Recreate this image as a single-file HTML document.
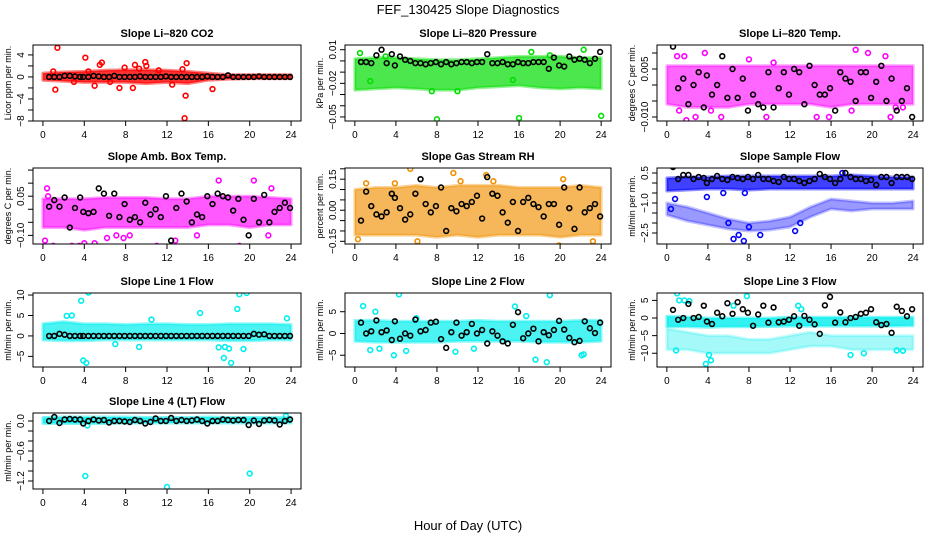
<!DOCTYPE html>
<html><head><meta charset="utf-8"><style>
html,body{margin:0;padding:0;background:#fff;}
svg{display:block;font-family:"Liberation Sans",Arial,sans-serif;}
</style></head><body>
<svg id="chart" width="936" height="540" viewBox="0 0 936 540" xmlns="http://www.w3.org/2000/svg">
<rect x="0" y="0" width="936" height="540" fill="#fff"/>
<text x="468" y="14" text-anchor="middle" font-size="13">FEF_130425  Slope Diagnostics</text>
<text x="468" y="530" text-anchor="middle" font-size="13">Hour of Day (UTC)</text>
</svg>
<script>
// shared hours for black (reference) points
const blackHours = [0.6,1.1,1.6,2.1,2.6,3.1,3.6,3.9,4.4,4.9,5.4,5.9,6.4,6.9,7.4,7.9,8.4,8.9,9.4,9.9,10.4,10.9,11.4,11.9,12.4,12.9,13.4,13.9,14.4,14.9,15.4,15.9,16.4,16.9,17.4,17.9,18.4,18.9,19.4,19.9,20.4,20.9,21.4,21.9,22.4,22.9,23.4,23.9];
const bandHours = [0,2,4,6,8,10,12,14,16,18,20,22,24];
const xTicks = [0,4,8,12,16,20,24];

// Panel 1: CO2
const co2BandLo = [-0.6,-0.8,-1.0,-1.0,-1.0,-1.2,-1.0,-1.2,-0.6,-0.4,-0.3,-0.3,-0.3];
const co2BandHi = [0.7,0.9,1.0,1.2,1.3,1.3,1.2,1.0,0.7,0.4,0.4,0.4,0.4];
const co2OutX = [1.4,1.2,4.1,4.4,5.5,5.7,5.0,7.4,7.9,8.7,8.9,9.9,10.0,13.7,13.8,13.9,12.5,13.5,16.4,1.0,3.0,11.2,6.5,9.3];
const co2OutY = [5.3,-2.3,3.5,1.0,2.2,2.6,-1.6,-2.0,1.7,-2.0,2.2,2.7,2.0,-7.5,-3.4,2.5,-1.4,1.4,-2.2,1.0,-0.9,1.2,-0.9,1.5];
const co2Black = [0,0,0,0.2,0.2,0.1,0,0,0,0.2,0.1,0,0,0.2,0,0,0,0,0.1,0,0,0,0,0.1,0,0,0,0,0,0,0,0.1,0,0,0,0.3,0,0,0,0,0,0.1,0,0,0,0,0,0];
// Panel 2: Pressure
const presBandLo = [-0.026,-0.025,-0.024,-0.025,-0.026,-0.026,-0.024,-0.023,-0.022,-0.024,-0.025,-0.024,-0.025];
const presBandHi = [0.002,0.003,0.003,0.002,0.001,0.001,0.002,0.003,0.004,0.004,0.004,0.003,0.003];
const presOutX = [0.5,8.0,16.0,17.2,22.3,24.0,7.5,10.0,15.4,1.5,19.0,3.0];
const presOutY = [0.007,-0.052,-0.051,0.008,0.010,-0.049,-0.027,-0.027,-0.017,-0.018,0.005,0.004];
const presBlack = [-0.001,-0.001,-0.002,0.005,0.010,-0.002,0.006,-0.004,0.004,0.001,0,-0.002,-0.002,-0.003,-0.002,-0.001,-0.003,-0.001,-0.003,-0.002,-0.001,-0.001,-0.002,-0.001,-0.001,0.006,-0.002,-0.002,-0.001,-0.003,-0.003,-0.001,-0.002,-0.002,-0.001,-0.001,-0.001,-0.007,0.003,-0.004,-0.005,0.004,0.001,0.002,0.001,-0.002,0.002,0.008];
// Panel 3: Li-820 Temp
const tempBandLo = [-0.006,-0.007,-0.007,-0.007,-0.006,-0.006,-0.006,-0.006,-0.007,-0.006,-0.006,-0.006,-0.006];
const tempBandHi = [0.006,0.006,0.006,0.006,0.006,0.006,0.006,0.006,0.006,0.006,0.006,0.006,0.006];
const tempOutX = [1.2,1.7,1.9,3.7,5.3,9.7,14.6,15.8,18.4,18.0,19.6,21.3,21.8,22.3,23.0,1.0,2.8,4.3,8.0,10.4];
const tempOutY = [-0.008,0.009,-0.011,0.010,-0.010,-0.010,-0.010,-0.010,0.011,-0.008,0.010,0.009,-0.010,-0.007,-0.007,0.009,-0.010,-0.008,0.008,0.007];
const tempBlack = [0.012,-0.001,0.002,-0.006,0.0,0.004,-0.007,0.003,-0.003,0.0,0.009,-0.004,0.005,-0.004,0.002,-0.008,-0.003,-0.006,-0.007,0.004,-0.007,-0.001,0.004,-0.003,0.005,0.004,-0.006,0.006,0.0,-0.003,-0.003,-0.001,-0.008,0.004,0.002,0.001,-0.005,0.004,0.004,-0.004,0.001,0.006,-0.005,0.002,-0.008,-0.005,-0.001,-0.010];
// Panel 4: Amb Box Temp
const ambBandLo = [-0.07,-0.07,-0.08,-0.07,-0.07,-0.07,-0.07,-0.07,-0.06,-0.06,-0.07,-0.06,-0.06];
const ambBandHi = [0.04,0.04,0.04,0.045,0.045,0.045,0.04,0.04,0.05,0.05,0.05,0.045,0.04];
const ambOutX = [0.2,0.4,1.0,2.8,3.5,4.0,5.0,6.2,7.1,7.8,11.0,11.2,12.8,14.9,17.0,19.0,20.5,20.4,21.8,22.1,0.5,8.4];
const ambOutY = [-0.12,0.08,-0.14,-0.14,-0.14,-0.13,-0.13,-0.11,-0.10,-0.11,-0.14,-0.15,-0.12,-0.10,0.11,-0.14,0.17,0.11,-0.10,0.08,0.05,-0.1];
const ambBlack = [0.01,0.035,0.01,0.045,-0.07,0.005,0.045,-0.01,-0.015,-0.01,0.08,0.06,-0.025,0.06,-0.03,0.02,-0.04,-0.03,-0.05,0.025,-0.02,0.0,-0.03,0.05,-0.12,0.005,0.06,0.03,-0.05,-0.02,-0.03,0.05,0.02,0.06,0.05,0.045,-0.005,0.04,-0.04,-0.1,0.04,-0.05,0.055,-0.05,-0.01,0.005,0.025,0.005];
// Panel 5: Gas Stream RH
const rhBandLo = [-0.12,-0.12,-0.12,-0.12,-0.13,-0.12,-0.13,-0.12,-0.12,-0.12,-0.13,-0.12,-0.12];
const rhBandHi = [0.1,0.11,0.11,0.12,0.11,0.12,0.12,0.12,0.11,0.11,0.11,0.12,0.11];
const rhOutX = [0.3,1.1,3.9,5.4,6.1,9.6,12.8,19.9,20.3,23.2,13.5,10.3];
const rhOutY = [-0.14,0.13,0.13,0.2,-0.15,0.18,0.17,-0.17,0.15,-0.15,0.14,0.14];
const rhBlack = [-0.05,0.09,0.02,-0.02,-0.03,-0.01,0.08,0.06,0.01,-0.045,-0.02,0.08,0.15,0.03,-0.01,0.02,0.11,-0.1,0.01,-0.005,0.03,0.02,0.04,0.07,-0.04,0.16,0.08,0.07,-0.01,-0.06,0.04,-0.1,0.04,0.06,0.03,0.015,-0.03,0.03,0.03,-0.07,0.11,0.01,-0.09,0.11,-0.01,0.01,0.03,-0.03];
// Panel 6: Sample Flow
const flowBandLo = [-0.4,-0.35,-0.3,-0.3,-0.35,-0.3,-0.3,-0.3,-0.3,-0.3,-0.3,-0.3,-0.3];
const flowBandHi = [0.25,0.3,0.3,0.35,0.35,0.35,0.35,0.35,0.35,0.4,0.35,0.3,0.3];
const flowLowLo = [-1.6,-1.9,-2.1,-2.3,-2.4,-2.35,-2.2,-1.7,-1.3,-1.4,-1.3,-1.3,-1.3];
const flowLowHi = [-1.0,-1.2,-1.5,-1.8,-2.0,-1.9,-1.7,-1.2,-0.8,-0.9,-1.0,-1.0,-0.9];
const flowOutX = [0.4,0.8,3.9,5.5,6.5,7.0,7.5,7.6,8.0,9.1,12.5,17.1,13.0,6.0];
const flowOutY = [-1.3,-0.8,-0.7,-0.5,-2.8,-2.6,-2.9,-0.5,-2.2,-2.6,-2.4,0.5,-2.0,-2.0];
const flowBlack = [0.8,0.2,0.4,0.4,0.2,0.3,0.25,0.0,0.2,0.35,0.2,0.15,0.3,0.25,0.2,0.3,0.2,0.4,0.2,0.2,0.1,0.05,0.3,0.2,0.2,0.1,0.0,0.1,0.2,0.45,0.3,0.2,0.0,0.2,0.5,0.3,0.2,0.2,0.1,0.15,-0.1,0.3,0.3,0.0,0.3,0.3,0.3,0.2];
// Panel 7: Line 1 Flow
const l1BandLo = [-1.0,-1.2,-1.2,-1.0,-1.0,-1.0,-1.0,-1.0,-1.0,-1.2,-1.2,-1.0,-1.0];
const l1BandHi = [3.0,3.5,3.0,3.0,2.8,3.0,3.0,2.8,2.8,3.0,3.0,3.0,2.8];
const l1OutX = [3.7,3.9,4.2,4.4,2.3,2.8,9.3,15.2,17.0,17.5,17.6,18.0,18.2,18.8,19.0,19.4,19.7,7.0,10.5,23.6];
const l1OutY = [8.6,-6.0,-6.6,10.6,4.9,5.0,-2.7,5.6,-2.8,-5.4,-2.7,-3.1,-6.6,6.6,10.2,-3.2,10.5,-2.0,4.0,4.3];
const l1Black = [0,0,0.5,0.3,0,0,0,0,0,0,0,0,0,0,0,0,0,0,0,0,0,0,0,0,0,0,0,0,0,0,0,0,0,0,0,0,0,0,0,0,0.5,0.3,0.4,0,0,0,0,0];
// Panel 8: Line 2 Flow
const l2BandLo = [-1.8,-2.0,-2.0,-2.0,-2.0,-1.8,-1.8,-1.8,-1.8,-2.0,-2.0,-2.0,-1.8];
const l2BandHi = [3.0,3.0,2.8,2.8,2.8,2.8,3.0,2.8,2.8,2.8,2.8,3.0,3.0];
const l2OutX = [0.8,1.5,2.4,3.8,4.3,5.0,9.8,15.6,17.6,19.0,18.7,22.3,22.1,2.0,6.0,11.6,16.7];
const l2OutY = [6.3,-3.8,-3.5,-5.0,9.0,-4.0,-4.2,6.2,-6.0,8.8,-6.6,-4.8,-5.0,5.0,3.5,-3.5,4.0];
const l2Black = [2.5,0,0.5,3,0.3,0.7,-1.5,2.8,-1.2,0,-0.5,3.2,0.5,0.8,2.5,2.7,-1.3,-3.3,0.3,2.5,-0.5,0.3,2.2,0,0.8,-2.3,0.5,-0.5,-1.8,-2.3,2,4.9,-1.1,0,1.1,-1.8,0.3,-0.4,0.8,2.9,0.9,-1,-2,-1.7,2.8,1.2,0.1,2.5];
// Panel 9: Line 3 Flow
const l3BandLo = [-2.5,-2.5,-2.6,-2.5,-2.5,-2.4,-2.3,-2.3,-2.3,-2.3,-2.3,-2.3,-2.2];
const l3BandHi = [0.5,0.3,0.0,0.0,0.0,0.0,0.2,0.2,0.2,0.2,0.2,0.2,0.2];
const l3LowLo = [-9,-9,-10,-10,-10,-10,-9,-8,-8,-9,-9,-9,-9];
const l3LowHi = [-3,-4,-5,-5,-6,-6,-5,-4,-5,-5,-5,-5,-5];
const l3OutX = [0.9,1.0,1.2,3.8,4.1,4.3,7.8,12.8,13.1,17.9,19.2,22.4,23.0,1.7,2.2,6.5];
const l3OutY = [-9.2,7.0,5.0,-13.0,-10.5,-12.0,6.2,3.5,2.5,-10.5,-10.0,-9.2,-9.3,5.0,4.8,3.5];
const l3Black = [2.3,-0.5,0,4,0,0.3,3.5,-1,-1.7,1.5,0.5,4.2,1.2,4.5,2.5,1.5,-2.2,1,3.5,-1.3,3,-1.2,-1,-0.5,0.5,-2.2,0.6,-0.5,-1.8,-4.5,3.6,6,-1.3,1.6,-1.2,0,0.3,1.2,1.5,2.5,-1.2,-2,-1.7,-4.2,3.2,2,0.5,2.5];
// Panel 10: Line 4 (LT) Flow
const l4BandLo = [-0.05,-0.05,-0.05,-0.05,-0.04,-0.04,-0.04,-0.04,-0.04,-0.04,-0.04,-0.04,-0.04];
const l4BandHi = [0.07,0.08,0.08,0.08,0.08,0.07,0.07,0.07,0.08,0.07,0.07,0.07,0.07];
const l4OutX = [4.1,12.0,20.0,4.3,23.5];
const l4OutY = [-1.1,-1.32,-1.05,-0.09,0.1];
const l4Black = [0.0,0.08,-0.04,0.03,0.04,0.03,0.03,-0.05,0.0,0.03,0.01,0.02,-0.03,0.0,0.0,-0.01,-0.02,0.02,0.0,-0.05,-0.02,0.05,0.0,0.0,0.06,0.0,0.02,0.0,0.01,0.03,0.0,-0.05,0.0,0.0,0.03,0.02,0.01,0.02,0.02,-0.08,0.01,-0.06,0.01,0.02,0.01,-0.07,0.0,0.03];

const NS = 'http://www.w3.org/2000/svg';
const svg = document.getElementById('chart');
const COLS = [[33,301],[345,611],[657,923]];
const ROWS = [[45,121],[168,244],[293,367],[413,489]];

const panels = [
 {key:'co2',title:'Slope Li\u2013820 CO2',ylab:'Licor ppm per min.',c:0,r:0,ymin:-8,ymax:5.8,ticks:[4,2,0,-2,-4,-6,-8],labels:[4,0,-4,-8],fmt:v=>v<0?'\u2212'+(-v):''+v,col:'#ff0000',bands:[[co2BandLo,co2BandHi,0.8]],ox:co2OutX,oy:co2OutY,bk:co2Black},
 {key:'pressure',title:'Slope Li\u2013820 Pressure',ylab:'kPa per min.',c:1,r:0,ymin:-0.0536,ymax:0.0142,ticks:[0.01,0,-0.01,-0.02,-0.03,-0.04,-0.05],labels:[0.01,-0.02,-0.05],fmt:v=>v<0?'\u2212'+(-v).toFixed(2):v.toFixed(2),col:'#00dd00',bands:[[presBandLo,presBandHi,0.7]],ox:presOutX,oy:presOutY,bk:presBlack},
 {key:'li820-temp',title:'Slope Li\u2013820 Temp.',ylab:'degrees C per min.',c:2,r:0,ymin:-0.01125,ymax:0.0125,ticks:[0.01,0.005,0,-0.005,-0.01],labels:[0.005,-0.01],fmt:v=>v<0?'\u2212'+(-v).toFixed(3):v.toFixed(3),col:'#ff00ff',bands:[[tempBandLo,tempBandHi,0.6]],ox:tempOutX,oy:tempOutY,bk:tempBlack},
 {key:'amb-box-temp',title:'Slope Amb. Box Temp.',ylab:'degrees C per min.',c:0,r:1,ymin:-0.133,ymax:0.158,ticks:[0.15,0.1,0.05,0,-0.05,-0.1],labels:[0.05,-0.1],fmt:v=>v<0?'\u2212'+(-v).toFixed(2):v.toFixed(2),col:'#ff00ff',bands:[[ambBandLo,ambBandHi,0.65]],ox:ambOutX,oy:ambOutY,bk:ambBlack},
 {key:'gas-stream-rh',title:'Slope Gas Stream RH',ylab:'percent per min.',c:1,r:1,ymin:-0.163,ymax:0.204,ticks:[0.2,0.15,0.1,0.05,0,-0.05,-0.1,-0.15],labels:[0.15,0,-0.15],fmt:v=>v<0?'\u2212'+(-v).toFixed(2):v.toFixed(2),col:'#f09000',bands:[[rhBandLo,rhBandHi,0.65]],ox:rhOutX,oy:rhOutY,bk:rhBlack},
 {key:'sample-flow',title:'Slope Sample Flow',ylab:'ml/min per min.',c:2,r:1,ymin:-3.05,ymax:0.75,ticks:[0.5,0,-0.5,-1,-1.5,-2,-2.5],labels:[0.5,-1,-2.5],fmt:v=>v<0?'\u2212'+(-v).toFixed(1):v.toFixed(1),col:'#0000ff',bands:[[flowBandLo,flowBandHi,0.75],[flowLowLo,flowLowHi,0.4]],ox:flowOutX,oy:flowOutY,bk:flowBlack},
 {key:'line1-flow',title:'Slope Line 1 Flow',ylab:'ml/min per min.',c:0,r:2,ymin:-7.6,ymax:10.5,ticks:[10,5,0,-5],labels:[10,5,0,-5],fmt:v=>v<0?'\u2212'+(-v):''+v,col:'#00eeee',bands:[[l1BandLo,l1BandHi,0.7]],ox:l1OutX,oy:l1OutY,bk:l1Black},
 {key:'line2-flow',title:'Slope Line 2 Flow',ylab:'ml/min per min.',c:1,r:2,ymin:-7.7,ymax:9.3,ticks:[5,0,-5],labels:[5,0,-5],fmt:v=>v<0?'\u2212'+(-v):''+v,col:'#00eeee',bands:[[l2BandLo,l2BandHi,0.7]],ox:l2OutX,oy:l2OutY,bk:l2Black},
 {key:'line3-flow',title:'Slope Line 3 Flow',ylab:'ml/min per min.',c:2,r:2,ymin:-13.9,ymax:7.1,ticks:[5,0,-5,-10],labels:[5,0,-5,-10],fmt:v=>v<0?'\u2212'+(-v):''+v,col:'#00eeee',bands:[[l3BandLo,l3BandHi,0.8],[l3LowLo,l3LowHi,0.35]],ox:l3OutX,oy:l3OutY,bk:l3Black},
 {key:'line4-flow',title:'Slope Line 4 (LT) Flow',ylab:'ml/min per min.',c:0,r:3,ymin:-1.36,ymax:0.16,ticks:[0,-0.2,-0.4,-0.6,-0.8,-1,-1.2],labels:[0,-0.6,-1.2],fmt:v=>v<0?'\u2212'+(-v).toFixed(1):v.toFixed(1),col:'#00eeee',bands:[[l4BandLo,l4BandHi,0.8]],ox:l4OutX,oy:l4OutY,bk:l4Black}
];

function mk(tag, attrs, parent){
  const e = document.createElementNS(NS, tag);
  for (const k in attrs) e.setAttribute(k, attrs[k]);
  (parent||svg).appendChild(e);
  return e;
}

panels.forEach(p=>{
  const [L,R] = COLS[p.c], [T,B] = ROWS[p.r];
  const xs = h => L + (h + 0.96) / 25.92 * (R - L);
  const ys = v => B - (v - p.ymin) / (p.ymax - p.ymin) * (B - T);
  const g = mk('g', {});
  
  
  const t = mk('text', {x:(L+R)/2, y:T-8, 'text-anchor':'middle', 'font-size':'11', 'font-weight':'bold'}, g);
  t.textContent = p.title;
  
  
  const cid = 'clip-' + p.key;
  const cp = mk('clipPath', {id:cid}, g);
  mk('rect', {x:L, y:T, width:R-L, height:B-T}, cp);
  const plot = mk('g', {'clip-path':'url(#'+cid+')'}, g);
  
  
  p.bands.forEach(([lo,hi,op])=>{
    let d = '';
    bandHours.forEach((h,i)=>{ d += (i?'L':'M') + xs(h).toFixed(1) + ',' + ys(hi[i]).toFixed(1); });
    for (let i = bandHours.length-1; i >= 0; i--) d += 'L' + xs(bandHours[i]).toFixed(1) + ',' + ys(lo[i]).toFixed(1);
    d += 'Z';
    const b = mk('path', {d:d, fill:p.col, 'fill-opacity':op, stroke:p.col, 'stroke-opacity':op*0.6, 'stroke-width':3, 'stroke-linejoin':'round'}, plot);
    
    
  });
  p.ox.forEach((h,i)=>{
    const c = mk('circle', {cx:xs(h), cy:ys(p.oy[i]), r:2.4, fill:'none', stroke:p.col, 'stroke-width':1.6}, plot);
    
    
  });
  blackHours.forEach((h,i)=>{
    const c = mk('circle', {cx:xs(h), cy:ys(p.bk[i]), r:2.4, fill:'none', stroke:'#000', 'stroke-width':1.6}, plot);
    
    
  });
  const box = mk('rect', {x:L, y:T, width:R-L, height:B-T, fill:'none', stroke:'#000', 'stroke-width':1}, g);
  
  
  const xa = mk('g', {}, g);
  
  
  mk('line', {x1:xs(0), x2:xs(24), y1:B, y2:B, stroke:'#000'}, xa);
  xTicks.forEach(v=>{
    mk('line', {x1:xs(v), x2:xs(v), y1:B, y2:B+5, stroke:'#000'}, xa);
    const tl = mk('text', {x:xs(v), y:B+17, 'text-anchor':'middle', 'font-size':'10'}, xa);
    tl.textContent = v;
    
    
  });
  const ya = mk('g', {}, g);
  
  
  const tmax = Math.max(...p.ticks), tmin = Math.min(...p.ticks);
  mk('line', {x1:L, x2:L, y1:ys(tmax), y2:ys(tmin), stroke:'#000'}, ya);
  p.ticks.forEach(v=>{ mk('line', {x1:L-5, x2:L, y1:ys(v), y2:ys(v), stroke:'#000'}, ya); });
  p.labels.forEach(v=>{
    const yy = ys(v), xx = L - 9;
    const tl = mk('text', {x:xx, y:yy, 'text-anchor':'middle', 'font-size':'10', transform:'rotate(-90 '+xx+' '+yy+')'}, ya);
    tl.textContent = p.fmt(v);
    
    
  });
  const yx = L - 22, yy = (T+B)/2;
  const yl = mk('text', {x:yx, y:yy, 'text-anchor':'middle', 'font-size':'9', transform:'rotate(-90 '+yx+' '+yy+')'}, g);
  yl.textContent = p.ylab;
  
  
});
</script>
</body></html>
